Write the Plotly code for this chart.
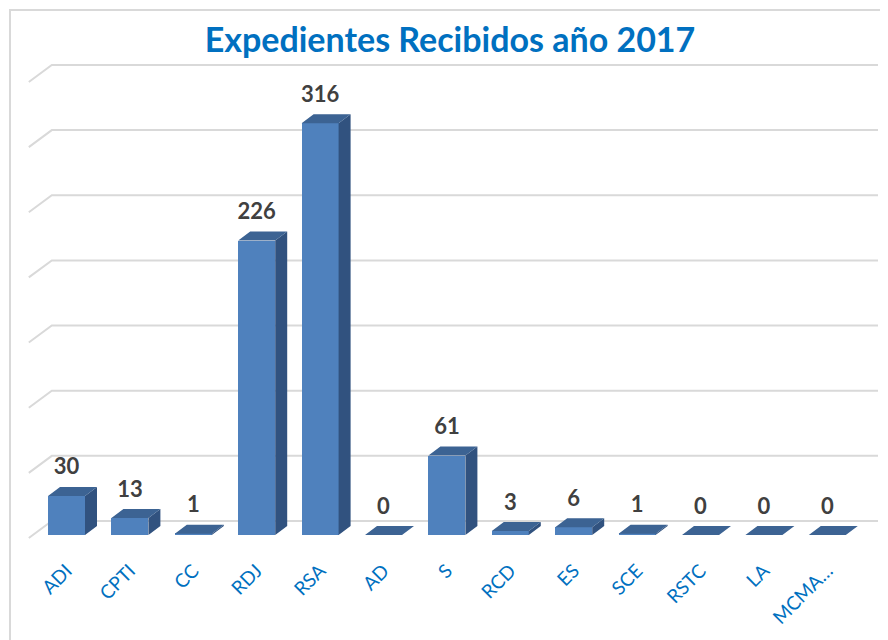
import plotly.graph_objects as go

# datos
categorias = ['ADI', 'CPTI', 'CC', 'RDJ', 'RSA', 'AD', 'S', 'RCD', 'ES', 'SCE', 'RSTC', 'LA', 'MCMA…']
expedientes = [30, 13, 1, 226, 316, 0, 61, 3, 6, 1, 0, 0, 0]
lineas_grid = [0, 50, 100, 150, 200, 250, 300, 350]

OFF = 8  # margen del body de la pagina
W, H = 888 - OFF, 640 - OFF
# area de trazado en pixeles (coordenadas de la ventana)
pl, pr, pt, pb = 25, 882, 55, 545
S = 63.4       # px por categoria
V = 1.303      # px por unidad
x0px = 66.5    # centro de la primera categoria
y0px = 535     # base de las barras (plano frontal)

xr = [(pl - x0px) / S, (pr - x0px) / S]
yr = [(y0px - pb) / V, (y0px - pt) / V]

ancho = 37 / S
prof_dx, prof_dy = 12 / S, 9 / V          # profundidad de barra
pared_dx, pared_dy = 19 / S, 14 / V       # pared del fondo
frente_dx, frente_dy = -4 / S, -3 / V     # borde frontal del suelo

azul = '#4F81BD'
azul_top = '#3C6393'
azul_lado = '#31527F'

fig = go.Figure()

# lineas de la pared de fondo (detras de las barras)
izq = -0.5 - 2 / S
der = len(categorias) - 0.5
for g in lineas_grid:
    fig.add_shape(type='path', xref='x', yref='y', layer='below',
                  path='M {} {} L {} {} L {} {}'.format(izq + frente_dx, g + frente_dy,
                                                         izq + pared_dx, g + pared_dy,
                                                         der + pared_dx, g + pared_dy),
                  line=dict(color='#D9D9D9', width=2))

# caras frontales
xs = list(range(len(categorias)))
fig.add_trace(go.Bar(x=xs, y=expedientes, width=ancho, marker=dict(color=azul, line=dict(width=0)),
                     hoverinfo='skip', showlegend=False))

# caras superiores y laterales
tx, ty, sx, sy = [], [], [], []
hw = ancho / 2
for i, v in enumerate(expedientes):
    tx += [i - hw, i + hw, i + hw + prof_dx, i - hw + prof_dx, i - hw, None]
    ty += [v, v, v + prof_dy, v + prof_dy, v, None]
    if v > 0:
        sx += [i + hw, i + hw, i + hw + prof_dx, i + hw + prof_dx, i + hw, None]
        sy += [0, v, v + prof_dy, prof_dy, 0, None]
fig.add_trace(go.Scatter(x=sx, y=sy, fill='toself', fillcolor=azul_lado, mode='lines',
                         line=dict(width=0, color=azul_lado), hoverinfo='skip', showlegend=False))
fig.add_trace(go.Scatter(x=tx, y=ty, fill='toself', fillcolor=azul_top, mode='lines',
                         line=dict(width=0, color=azul_top), hoverinfo='skip', showlegend=False))

# etiquetas de datos
fig.add_trace(go.Scatter(x=xs, y=[v + 27 / V for v in expedientes], mode='text',
                         text=[str(v) for v in expedientes], textposition='middle center',
                         textfont=dict(family='Lato', size=22, color='#404040', weight='bold'),
                         cliponaxis=False, hoverinfo='skip', showlegend=False))

# marco del grafico
pw, ph = pr - pl, pb - pt
fig.add_shape(type='rect', xref='paper', yref='paper',
              x0=(10 - pl) / pw, x1=(895 - pl) / pw, y0=(pb - 650) / ph, y1=(pb - 10) / ph,
              line=dict(color='#D9D9D9', width=2), layer='below')

fig.update_layout(
    width=W, height=H, autosize=False,
    margin=dict(l=pl - OFF, r=888 - pr, t=pt - OFF, b=640 - pb),
    paper_bgcolor='white', plot_bgcolor='white',
    title=dict(text='<b>Expedientes Recibidos año 2017</b>', x=(450 - OFF) / W, xanchor='center',
               y=1 - (40 - OFF) / H, yanchor='middle',
               font=dict(family='Lato', size=34, color='#0070C0')),
    xaxis=dict(range=xr, tickvals=xs, ticktext=categorias, tickangle=-45,
               tickfont=dict(family='Lato', size=19, color='#0070C0'),
               showgrid=False, zeroline=False, showline=False, ticks='',
               ticklabelstandoff=10),
    yaxis=dict(range=yr, showticklabels=False, showgrid=False, zeroline=False, showline=False),
    bargap=0,
)

fig.write_html('out.html')
